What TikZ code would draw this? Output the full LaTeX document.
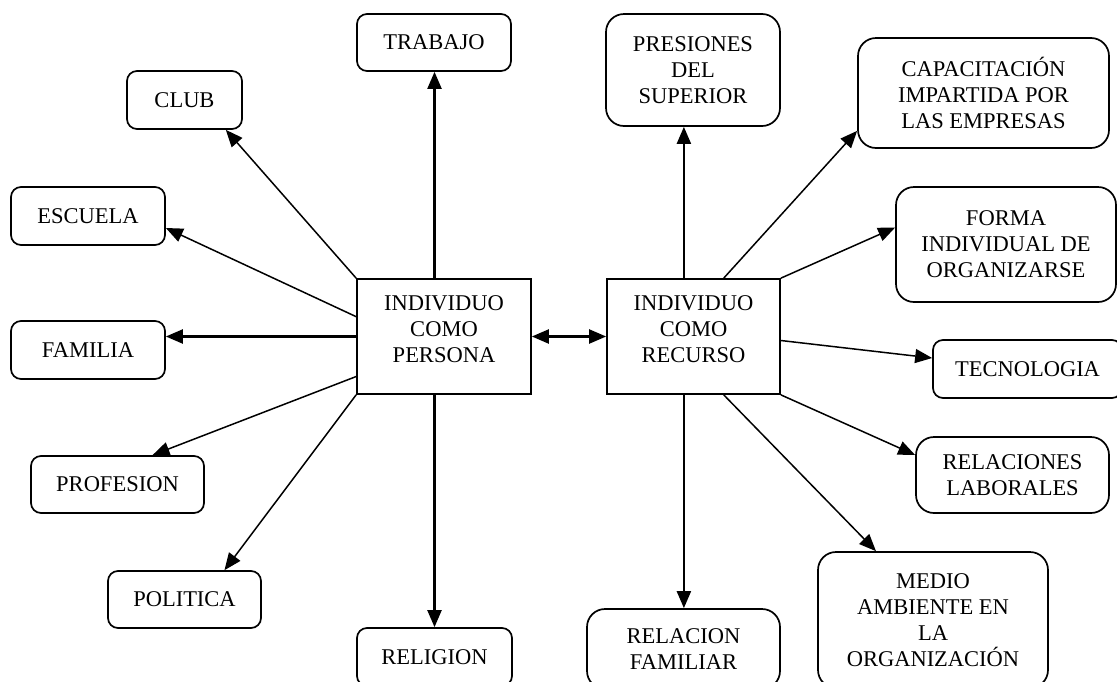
\documentclass[tikz,border=0pt]{standalone}
\usepackage{fontspec}
\setmainfont{Liberation Serif}
\usetikzlibrary{arrows.meta,calc}
\begin{document}
\begin{tikzpicture}[x=1pt,y=-1pt,
  txt/.style={align=center, inner sep=2pt, font=\fontsize{22.5}{26}\selectfont},
  box/.style={txt, draw, line width=1.7pt, rounded corners=10pt},
  big/.style={box, rounded corners=18pt},
  core/.style={txt, draw, line width=1.7pt},
  tip/.tip={Triangle[length=17pt,width=14pt]},
  arr/.style={-tip, line width=2.2pt},
  darr/.style={-tip, line width=1.5pt},
]
\useasboundingbox (0,0) rectangle (1117,681);
% left side
\node[box, minimum width=154pt, minimum height=57pt] (trabajo) at (434,42.5) {TRABAJO};
\node[box, minimum width=115pt, minimum height=58pt] (club) at (184.5,100) {CLUB};
\node[box, minimum width=154pt, minimum height=58pt] (escuela) at (88,216) {ESCUELA};
\node[box, minimum width=154pt, minimum height=58pt] (familia) at (88,350) {FAMILIA};
\node[box, minimum width=173pt, minimum height=57pt] (profesion) at (117.5,484.5) {PROFESION};
\node[box, minimum width=153pt, minimum height=57pt] (politica) at (184.5,599.5) {POLITICA};
\node[box, minimum width=155pt, minimum height=58pt] (religion) at (434.5,657) {RELIGION};
\node[core, minimum width=174pt, minimum height=115pt] (persona) at (444,336.5) {INDIVIDUO\\COMO\\PERSONA\\[-12pt]};
% right side
\node[core, minimum width=173pt, minimum height=115pt] (recurso) at (693.5,336.5) {INDIVIDUO\\COMO\\RECURSO\\[-12pt]};
\node[big, minimum width=174pt, minimum height=112pt] (presiones) at (693,70) {PRESIONES\\DEL\\SUPERIOR};
\node[big, minimum width=251pt, minimum height=110pt] (capac) at (983.5,93) {CAPACITACIÓN\\IMPARTIDA POR\\LAS EMPRESAS};
\node[big, minimum width=220pt, minimum height=115pt] (forma) at (1006,244.5) {FORMA\\INDIVIDUAL DE\\ORGANIZARSE};
\node[box, minimum width=189pt, minimum height=58pt] (tecno) at (1027.5,369) {TECNOLOGIA};
\node[big, minimum width=193pt, minimum height=76pt] (relac) at (1012.5,475) {RELACIONES\\LABORALES};
\node[big, minimum width=230pt, minimum height=136pt] (medio) at (933,620) {MEDIO\\AMBIENTE EN\\LA\\ORGANIZACIÓN};
\node[big, minimum width=193pt, minimum height=80pt] (relfam) at (683.5,649) {RELACION\\FAMILIAR};
% helper points on the central boxes
\coordinate (ptop) at ($(persona.north west)!0.446!(persona.north east)$);
\coordinate (pbot) at ($(persona.south west)!0.446!(persona.south east)$);
\coordinate (rtop) at ($(recurso.north west)!0.445!(recurso.north east)$);
\coordinate (rbot) at ($(recurso.south west)!0.445!(recurso.south east)$);
% connectors left
\draw[arr] (ptop) -- (ptop |- trabajo.south);
\draw[darr] (persona.north west) -- ($(club.south east)+(-17,0)$);
\draw[darr] ($(persona.north west)!0.33!(persona.south west)$) -- ($(escuela.east)+(0,12)$);
\draw[arr] (persona.west) -- (persona.west -| familia.east);
\draw[darr] ($(persona.north west)!0.843!(persona.south west)$) -- ($(profesion.north)+(35,0)$);
\draw[darr] (persona.south west) -- ($(politica.north)+(40,0)$);
\draw[arr] (pbot) -- (pbot |- religion.north);
\draw[tip-tip, line width=2.2pt] (persona.east) -- (recurso.west);
% connectors right
\draw[arr] (rtop) -- (rtop |- presiones.south);
\draw[darr] ($(recurso.north west)!0.673!(recurso.north east)$) -- ($(capac.south west)+(0,-18)$);
\draw[darr] (recurso.north east) -- ($(forma.west)+(0,-17)$);
\draw[darr] ($(recurso.east)+(0,4)$) -- ($(tecno.west)+(0,-11)$);
\draw[darr] (recurso.south east) -- ($(relac.west)+(0,-20)$);
\draw[darr] ($(recurso.south west)!0.673!(recurso.south east)$) -- ($(medio.north)+(-57,0)$);
\draw[arr] (rbot) -- (rbot |- relfam.north);
\end{tikzpicture}
\end{document}
